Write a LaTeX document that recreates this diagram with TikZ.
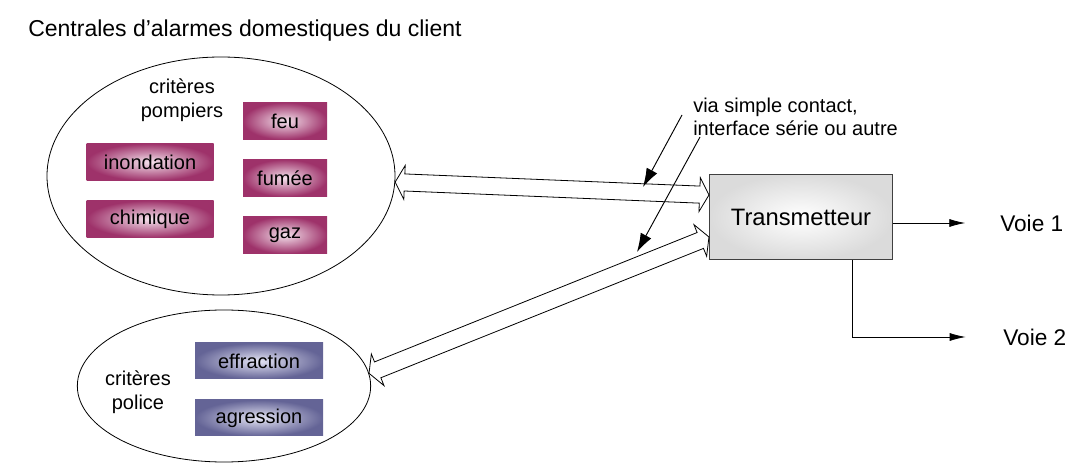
\documentclass[tikz,border=0pt]{standalone}
\usepackage{fontspec}
\setmainfont{Liberation Sans}
\usetikzlibrary{shapes.geometric,arrows.meta,calc}
\definecolor{fireout}{RGB}{158,50,106}
\definecolor{firein}{RGB}{244,226,236}
\definecolor{copout}{RGB}{100,100,150}
\definecolor{copin}{RGB}{228,228,244}
\tikzset{>={Latex[length=12pt,width=6pt]}}
\tikzset{
    crit/.style={ellipse, draw, line width=0.6pt, inner sep=0pt},
    firebox/.style={rectangle, shading=radial, inner color=firein, outer color=fireout, minimum height=27.75pt, inner sep=0pt, font=\fontsize{15}{18}\selectfont},
    copbox/.style={rectangle, shading=radial, inner color=copin, outer color=copout, minimum width=96pt, minimum height=27pt, inner sep=0pt, font=\fontsize{15}{18}\selectfont},
    txt/.style={inner sep=0pt, font=\fontsize{15}{18}\selectfont},
    hollow/.style={draw, line width=0.6pt, fill=white, line join=miter},
    wire/.style={line width=0.6pt},
    pointer/.style={line width=0.7pt, -{Latex[length=14pt,width=9pt]}}
}
\newcommand{\hollowarrow}[2]{%
    \coordinate (ha) at ($(#1)!7pt!(#2)$);
    \coordinate (hb) at ($(#2)!7pt!(#1)$);
    \draw[hollow] (#1) -- ($(ha)!12.75pt!90:(#2)$) -- ($(ha)!6.4pt!90:(#2)$) -- ($(hb)!6.4pt!-90:(#1)$) -- ($(hb)!12.75pt!-90:(#1)$) -- (#2) -- ($(hb)!12.75pt!90:(#1)$) -- ($(hb)!6.4pt!90:(#1)$) -- ($(ha)!6.4pt!-90:(#2)$) -- ($(ha)!12.75pt!-90:(#2)$) -- cycle;}

\begin{document}
\begin{tikzpicture}[x=0.75pt, y=-0.75pt]
    \useasboundingbox (0,0) rectangle (1072,463);
    \node[anchor=west, inner sep=0pt, font=\fontsize{17.25}{20}\selectfont] (title) at (28,31) {Centrales d’alarmes domestiques du client};

    \node[crit, minimum width=261pt, minimum height=178.5pt] (pompiers) at (221,176) {};
    \node[txt, align=center] (pomplabel) at (182,100) {critères\\pompiers};
    \node[firebox, minimum width=63pt] (feu) at (285,121) {feu};
    \node[firebox, minimum width=63pt] (fumee) at (285,178) {fumée};
    \node[firebox, minimum width=63pt] (gaz) at (285,235) {gaz};
    \node[firebox, minimum width=95.25pt] (inondation) at (150,162) {inondation};
    \node[firebox, minimum width=95.25pt] (chimique) at (150,219) {chimique};

    \node[crit, minimum width=220pt, minimum height=114pt] (police) at (224,386) {};
    \node[txt, align=center] (polilabel) at (138,392) {critères\\police};
    \node[copbox] (effraction) at (259,361) {effraction};
    \node[copbox] (agression) at (259,418) {agression};

    \node[rectangle, draw=black!75, line width=0.8pt, shading=radial, inner color=white, outer color=black!14, minimum width=137.25pt, minimum height=63.75pt, font=\fontsize{17.8}{20}\selectfont] (trans) at (801,217) {Transmetteur};

    \node[txt, anchor=west, font=\fontsize{17}{20}\selectfont] (voie1) at (1000,223) {Voie 1};
    \node[txt, anchor=west, font=\fontsize{17}{20}\selectfont] (voie2) at (1003,337) {Voie 2};
    \node[txt, anchor=west, align=left, font=\fontsize{15}{17.25}\selectfont] (via) at (693,117) {via simple contact,\\interface série ou autre};

    \coordinate (t1) at ($(trans.west)+(0,-22)$);
    \coordinate (t2) at ($(trans.west)+(0,20)$);
    \hollowarrow{pompiers.-2}{t1}
    \hollowarrow{police.5}{t2}

    \coordinate (p1) at (682,115);
    \coordinate (q1) at (643,187);
    \coordinate (p2) at (700,137);
    \coordinate (q2) at (637,252);
    \draw[pointer] (p1) -- (q1);
    \draw[pointer] (p2) -- (q2);

    \draw[wire, ->] ($(trans.east)+(0,6)$) -- ([xshift=-26pt]voie1.west);
    \draw[wire, ->] ([xshift=38.25pt]trans.south) |- ([xshift=-28pt]voie2.west);
\end{tikzpicture}
\end{document}
